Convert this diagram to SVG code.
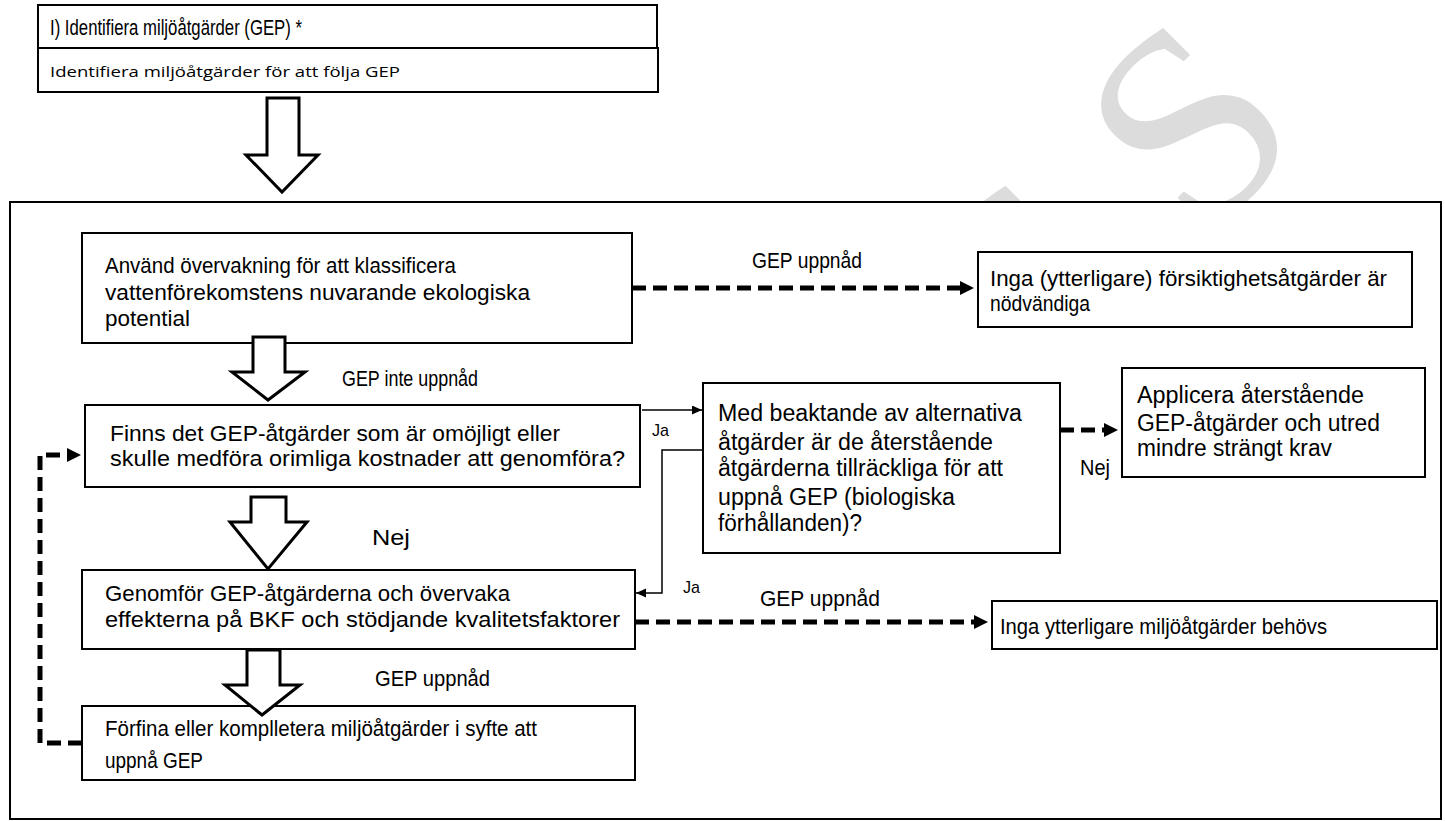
<svg xmlns="http://www.w3.org/2000/svg" width="1445" height="821" viewBox="0 0 1445 821">
  <style>
    .box { fill: #ffffff; stroke: #000000; stroke-width: 2; }
    .t { font-family: "Liberation Sans", Arial, sans-serif; font-size: 22px; fill: #000000; }
    .big { font-family: "Liberation Sans", Arial, sans-serif; font-size: 23px; fill: #000000; }
    .small { font-family: "Liberation Sans", Arial, sans-serif; font-size: 17px; fill: #000000; }
    .sub { font-family: "Open Sans", "Noto Sans", sans-serif; font-size: 15px; fill: #000000; }
    .block { fill: #ffffff; stroke: #000000; stroke-width: 3; stroke-linejoin: miter; }
    .dash { fill: none; stroke: #000000; stroke-width: 5; stroke-dasharray: 14 7; }
    .thin { fill: none; stroke: #000000; stroke-width: 1.5; }
    .wm { font-family: "Liberation Serif", "Times New Roman", serif; font-size: 280px; fill: #dcdcdc; }
  </style>
  <defs>
    <marker id="headBold" markerUnits="userSpaceOnUse" markerWidth="16" markerHeight="16" refX="4" refY="7" orient="auto">
      <path d="M0,0 L14,7 L0,14 Z" fill="#000000"/>
    </marker>
    <marker id="headThin" markerUnits="userSpaceOnUse" markerWidth="12" markerHeight="10" refX="10" refY="4.5" orient="auto">
      <path d="M0,0 L10,4.5 L0,9 Z" fill="#000000"/>
    </marker>
  </defs>

  <rect width="1445" height="821" fill="#ffffff"/>

  <!-- background watermark, mostly hidden behind the frame -->
  <g id="watermark" transform="translate(1199,246) rotate(-45)">
    <text class="wm" x="-223" y="0">S</text>
    <text class="wm" x="0" y="0">S</text>
  </g>

  <!-- header -->
  <g id="header-title">
    <rect class="box" x="38" y="5" width="619" height="43"/>
    <text class="t" x="50" y="35" textLength="252" lengthAdjust="spacingAndGlyphs">I) Identifiera miljöåtgärder (GEP) *</text>
  </g>
  <g id="header-sub">
    <rect class="box" x="38" y="48" width="620" height="44"/>
    <text class="sub" x="50" y="77" textLength="350" lengthAdjust="spacingAndGlyphs">Identifiera miljöåtgärder för att följa GEP</text>
  </g>

  <!-- outer frame -->
  <g id="frame">
    <rect x="10" y="202" width="1431" height="617" fill="#ffffff" stroke="#000000" stroke-width="2"/>
  </g>

  <!-- connectors -->
  <g id="connectors">
    <path class="block" d="M267,98 H299 V155 H318 L282,192 L246,155 H267 Z"/>
    <path class="dash" d="M632,288 H964" marker-end="url(#headBold)"/>
    <path class="dash" d="M1060,430 H1108" marker-end="url(#headBold)"/>
    <path class="dash" d="M635,622 H978" marker-end="url(#headBold)"/>
    <path class="dash" d="M82,743 H40 V455 H71" marker-end="url(#headBold)"/>
    <path class="thin" d="M642,410 H702" marker-end="url(#headThin)"/>
    <path class="thin" d="M707,450 H662 V593 H636" marker-end="url(#headThin)"/>
  </g>

  <!-- nodes -->
  <g id="node-monitor">
    <rect class="box" x="82" y="233" width="550" height="110"/>
    <text class="t" x="105" y="273" textLength="351" lengthAdjust="spacingAndGlyphs">Använd övervakning för att klassificera</text>
    <text class="t" x="105" y="300" textLength="425" lengthAdjust="spacingAndGlyphs">vattenförekomstens nuvarande ekologiska</text>
    <text class="t" x="105" y="326" textLength="85" lengthAdjust="spacingAndGlyphs">potential</text>
  </g>
  <g id="node-no-precaution">
    <rect class="box" x="978" y="252" width="434" height="75"/>
    <text class="t" x="990" y="286" textLength="397" lengthAdjust="spacingAndGlyphs">Inga (ytterligare) försiktighetsåtgärder är</text>
    <text class="t" x="990" y="311" textLength="100" lengthAdjust="spacingAndGlyphs">nödvändiga</text>
  </g>
  <g id="node-question">
    <rect class="box" x="85" y="405" width="555" height="82"/>
    <text class="t" x="110" y="441" textLength="450" lengthAdjust="spacingAndGlyphs">Finns det GEP-åtgärder som är omöjligt eller</text>
    <text class="t" x="110" y="466" textLength="515" lengthAdjust="spacingAndGlyphs">skulle medföra orimliga kostnader att genomföra?</text>
  </g>
  <g id="node-alternatives">
    <rect class="box" x="703" y="383" width="357" height="170"/>
    <text class="big" x="718" y="421" textLength="304" lengthAdjust="spacingAndGlyphs">Med beaktande av alternativa</text>
    <text class="big" x="718" y="450" textLength="275" lengthAdjust="spacingAndGlyphs">åtgärder är de återstående</text>
    <text class="big" x="718" y="476" textLength="285" lengthAdjust="spacingAndGlyphs">åtgärderna tillräckliga för att</text>
    <text class="big" x="718" y="505" textLength="237" lengthAdjust="spacingAndGlyphs">uppnå GEP (biologiska</text>
    <text class="big" x="718" y="531" textLength="144" lengthAdjust="spacingAndGlyphs">förhållanden)?</text>
  </g>
  <g id="node-apply">
    <rect class="box" x="1122" y="368" width="303" height="109"/>
    <text class="big" x="1137" y="403" textLength="227" lengthAdjust="spacingAndGlyphs">Applicera återstående</text>
    <text class="big" x="1137" y="431" textLength="243" lengthAdjust="spacingAndGlyphs">GEP-åtgärder och utred</text>
    <text class="big" x="1137" y="456" textLength="195" lengthAdjust="spacingAndGlyphs">mindre strängt krav</text>
  </g>
  <g id="node-implement">
    <rect class="box" x="82" y="570" width="553" height="79"/>
    <text class="t" x="105" y="601" textLength="405" lengthAdjust="spacingAndGlyphs">Genomför GEP-åtgärderna och övervaka</text>
    <text class="t" x="105" y="627" textLength="515" lengthAdjust="spacingAndGlyphs">effekterna på BKF och stödjande kvalitetsfaktorer</text>
  </g>
  <g id="node-no-further">
    <rect class="box" x="992" y="601" width="445" height="48"/>
    <text class="t" x="1000" y="634" textLength="327" lengthAdjust="spacingAndGlyphs">Inga ytterligare miljöåtgärder behövs</text>
  </g>
  <g id="node-refine">
    <rect class="box" x="82" y="706" width="553" height="74"/>
    <text class="t" x="105" y="736" textLength="432" lengthAdjust="spacingAndGlyphs">Förfina eller komplletera miljöåtgärder i syfte att</text>
    <text class="t" x="105" y="768" textLength="98" lengthAdjust="spacingAndGlyphs">uppnå GEP</text>
  </g>

  <!-- block arrows between steps -->
  <g id="flow-arrows">
    <path class="block" d="M253,337 H285 V372 H305 L268,400 L232,372 H253 Z"/>
    <path class="block" d="M251,497 H286 V522 H307 L268,569 L230,522 H251 Z"/>
    <path class="block" d="M247,650 H280 V685 H300 L262,715 L225,685 H247 Z"/>
  </g>

  <!-- edge labels -->
  <g id="labels">
    <text class="t" x="752" y="268" textLength="110" lengthAdjust="spacingAndGlyphs">GEP uppnåd</text>
    <text class="t" x="342" y="386" textLength="136" lengthAdjust="spacingAndGlyphs">GEP inte uppnåd</text>
    <text class="small" x="652" y="436" textLength="17" lengthAdjust="spacingAndGlyphs">Ja</text>
    <text class="t" x="1080" y="475" textLength="30" lengthAdjust="spacingAndGlyphs">Nej</text>
    <text class="t" x="372" y="545" textLength="38" lengthAdjust="spacingAndGlyphs">Nej</text>
    <text class="small" x="683" y="593" textLength="17" lengthAdjust="spacingAndGlyphs">Ja</text>
    <text class="t" x="760" y="606" textLength="120" lengthAdjust="spacingAndGlyphs">GEP uppnåd</text>
    <text class="t" x="375" y="686" textLength="115" lengthAdjust="spacingAndGlyphs">GEP uppnåd</text>
  </g>
</svg>
